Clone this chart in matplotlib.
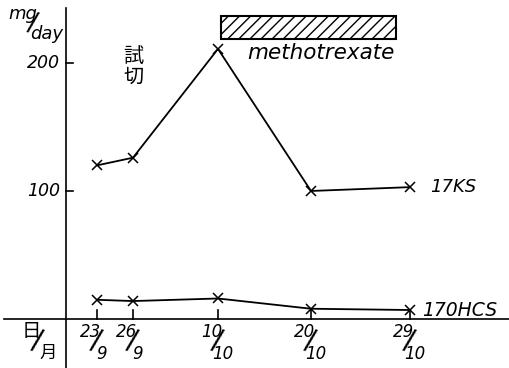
import matplotlib
matplotlib.use("Agg")
import matplotlib.pyplot as plt
from matplotlib.patches import Rectangle

plt.rcParams['font.family'] = ['DejaVu Sans', 'Noto Sans CJK JP']
plt.rcParams['hatch.linewidth'] = 1.0

# dates (day/month) and their positions along the hand-drawn axis
dates_num = ["23", "26", "10", "20", "29"]
dates_den = ["9", "9", "10", "10", "10"]
date_pos = [0, 3.6, 12.1, 21.4, 31.3]

ks_17 = [120, 126, 211, 100, 103]      # 17KS mg/day
hcs_170 = [15, 14, 16, 8, 7]          # 17OHCS mg/day

yticks = [100, 200]
mtx_start, mtx_end = 12.4, 29.9       # methotrexate bar extent
mtx_low, mtx_high = 219, 237

fig = plt.figure(figsize=(5.1, 3.68), dpi=100)
ax = fig.add_axes([0, 0, 1, 1])
ax.set_xlim(-9.7, 41.3)
ax.set_ylim(-38.3, 249.2)
ax.axis('off')

cjk = ['Noto Sans CJK JP', 'DejaVu Sans']

# hand-drawn axes
ax.plot([-9.3, 41.3], [0, 0], color='black', lw=1.2, clip_on=False)
ax.plot([-3.1, -3.1], [-38.3, 243], color='black', lw=1.2, clip_on=False)
for y in yticks:
    ax.plot([-3.1, -2.4], [y, y], color='black', lw=1.2)
    ax.text(-3.7, y, str(y), ha='right', va='center', fontsize=12.5, style='italic')
for x in date_pos:
    ax.plot([x, x], [0, 7], color='black', lw=1.2)

ax.plot(date_pos, ks_17, color='black', lw=1.3, marker='x', ms=7, mew=1.1)
ax.plot(date_pos, hcs_170, color='black', lw=1.3, marker='x', ms=7, mew=1.1)

ax.text(33.3, 103, "17KS", ha='left', va='center', fontsize=13, style='italic')
ax.text(32.5, 7, "170HCS", ha='left', va='center', fontsize=13.5, style='italic')

# date labels as stacked fractions
for x, n, d in zip(date_pos, dates_num, dates_den):
    ax.text(x - 0.6, -10.5, n, ha='center', va='center', fontsize=12, style='italic')
    ax.text(x - 0.1, -17.5, "/", ha='center', va='center', fontsize=21, rotation=-13)
    ax.text(x + 0.5, -27, d, ha='center', va='center', fontsize=12, style='italic')

# 日/月
ax.text(-6.6, -9.4, "日", ha='center', va='center', fontsize=14, family=cjk)
ax.text(-6.0, -17, "/", ha='center', va='center', fontsize=21, rotation=-13)
ax.text(-4.9, -26.5, "月", ha='center', va='center', fontsize=12.5, family=cjk)

# mg/day
ax.text(-7.4, 238, "mg", ha='center', va='center', fontsize=13, style='italic')
ax.text(-6.5, 230, "/", ha='center', va='center', fontsize=19, rotation=-13)
ax.text(-5.0, 222.5, "day", ha='center', va='center', fontsize=13, style='italic')

# 試切
ax.text(3.6, 205, "試", ha='center', va='center', fontsize=14.5, family=cjk)
ax.text(3.6, 189, "切", ha='center', va='center', fontsize=14.5, family=cjk)

# methotrexate bar
ax.add_patch(Rectangle((mtx_start, mtx_low), mtx_end - mtx_start, mtx_high - mtx_low,
                       facecolor='white', edgecolor='black', lw=1.5, hatch='///'))
ax.text(22.4, 208, "methotrexate", ha='center', va='center', fontsize=15.5, style='italic')

fig.savefig("out.png", dpi=100)
